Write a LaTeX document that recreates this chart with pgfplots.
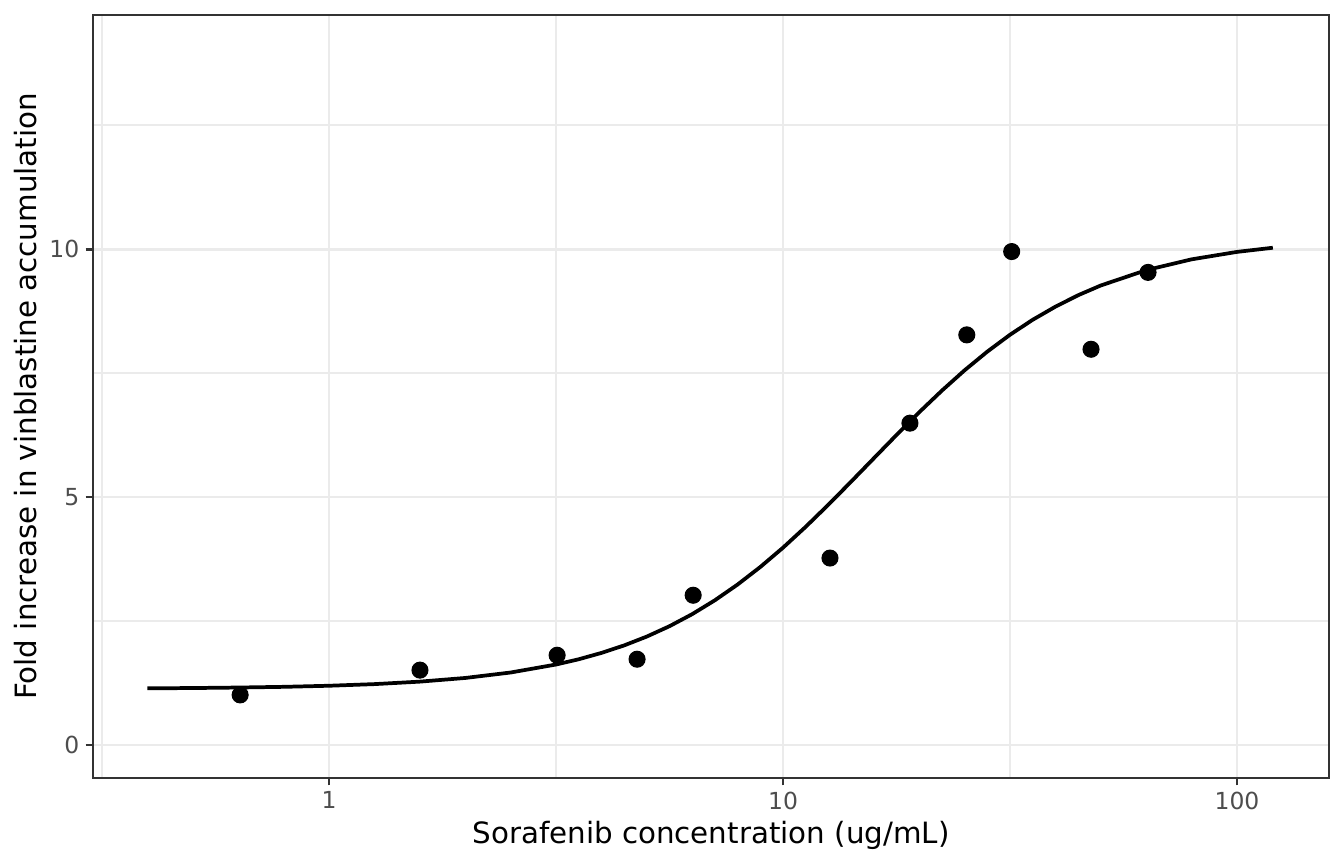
\documentclass[border=0pt]{standalone}
\usepackage{pgfplots}
\pgfplotsset{compat=1.18}
\usepackage{fontspec}
\setmainfont{DejaVu Sans}
\definecolor{grey92}{HTML}{EBEBEB}
\definecolor{grey20}{HTML}{333333}
\definecolor{grey30}{HTML}{4D4D4D}
\begin{document}
\begin{tikzpicture}
\useasboundingbox (-34.875pt,-32.25pt) rectangle (469.125pt,291.75pt);
% minor grid lines (background)
\begin{axis}[
  at={(0,0)}, anchor=south west,
  scale only axis,
  width=463.5pt, height=286.125pt,
  xmode=log, log basis x=10,
  xmin=0.302, xmax=159.5,
  ymin=-0.665, ymax=14.72,
  xtick={0.3162,3.162,31.62}, xticklabels={},
  ytick={2.5,7.5,12.5}, yticklabels={},
  xmajorgrids, ymajorgrids,
  major grid style={color=grey92, line width=0.53pt},
  axis line style={draw=none},
  tick style={draw=none},
]
\end{axis}
% main axis
\begin{axis}[
  at={(0,0)}, anchor=south west,
  scale only axis,
  width=463.5pt, height=286.125pt,
  xmode=log, log basis x=10,
  xmin=0.302, xmax=159.5,
  ymin=-0.665, ymax=14.72,
  xtick={1,10,100}, xticklabels={1,10,100},
  ytick={0,5,10}, yticklabels={0,5,10},
  xmajorgrids, ymajorgrids,
  major grid style={color=grey92, line width=1.07pt},
  axis line style={color=grey20, line width=1.07pt},
  tick align=outside,
  major tick length=2.75pt,
  tick style={draw=grey20, line width=1.07pt},
  xtick pos=bottom, ytick pos=left,
  /pgf/number format/assume math mode=true,
  tick label style={font=\fontsize{8.8}{10}\selectfont, text=grey30},
  xticklabel style={inner sep=0pt, yshift=-2.2pt, anchor=north},
  yticklabel style={inner sep=0pt, xshift=-2.2pt, anchor=east},
  xlabel={Sorafenib concentration (ug/mL)},
  ylabel={Fold increase in vinblastine accumulation},
  label style={font=\fontsize{11}{13}\selectfont},
  xlabel style={at={(axis description cs:0.5,0)}, anchor=base, yshift=-24.4pt},
  ylabel style={at={(axis description cs:0,0.5)}, anchor=base, yshift=21pt},
  clip=true,
]
\addplot[black, line width=1.4pt, no markers] coordinates {
(0.3981,1.143) (0.5012,1.149) (0.6310,1.159) (0.7943,1.173) (1.0,1.195)
(1.2589,1.228) (1.5849,1.278) (1.9953,1.352) (2.5119,1.462) (3.1623,1.623)
(3.5481,1.729) (3.9811,1.857) (4.4668,2.008) (5.0119,2.187) (5.6234,2.396)
(6.3096,2.639) (7.0795,2.919) (7.9433,3.236) (8.9125,3.590) (10.0,3.979)
(11.220,4.400) (12.589,4.846) (14.125,5.310) (15.849,5.781) (17.783,6.251)
(19.953,6.709) (22.387,7.146) (25.119,7.556) (28.184,7.932) (31.623,8.272)
(35.481,8.574) (39.811,8.838) (44.668,9.069) (50.119,9.266) (63.096,9.575)
(79.433,9.793) (100.0,9.943) (119.95,10.027)
};
\addplot[only marks, mark=*, mark size=3pt, black] coordinates {
(0.637,1.01) (1.586,1.51) (3.18,1.81) (4.77,1.73) (6.34,3.02)
(12.69,3.77) (19.04,6.49) (25.4,8.27) (31.9,9.95) (47.7,7.98) (63.7,9.53)
};
\end{axis}
\end{tikzpicture}
\end{document}
